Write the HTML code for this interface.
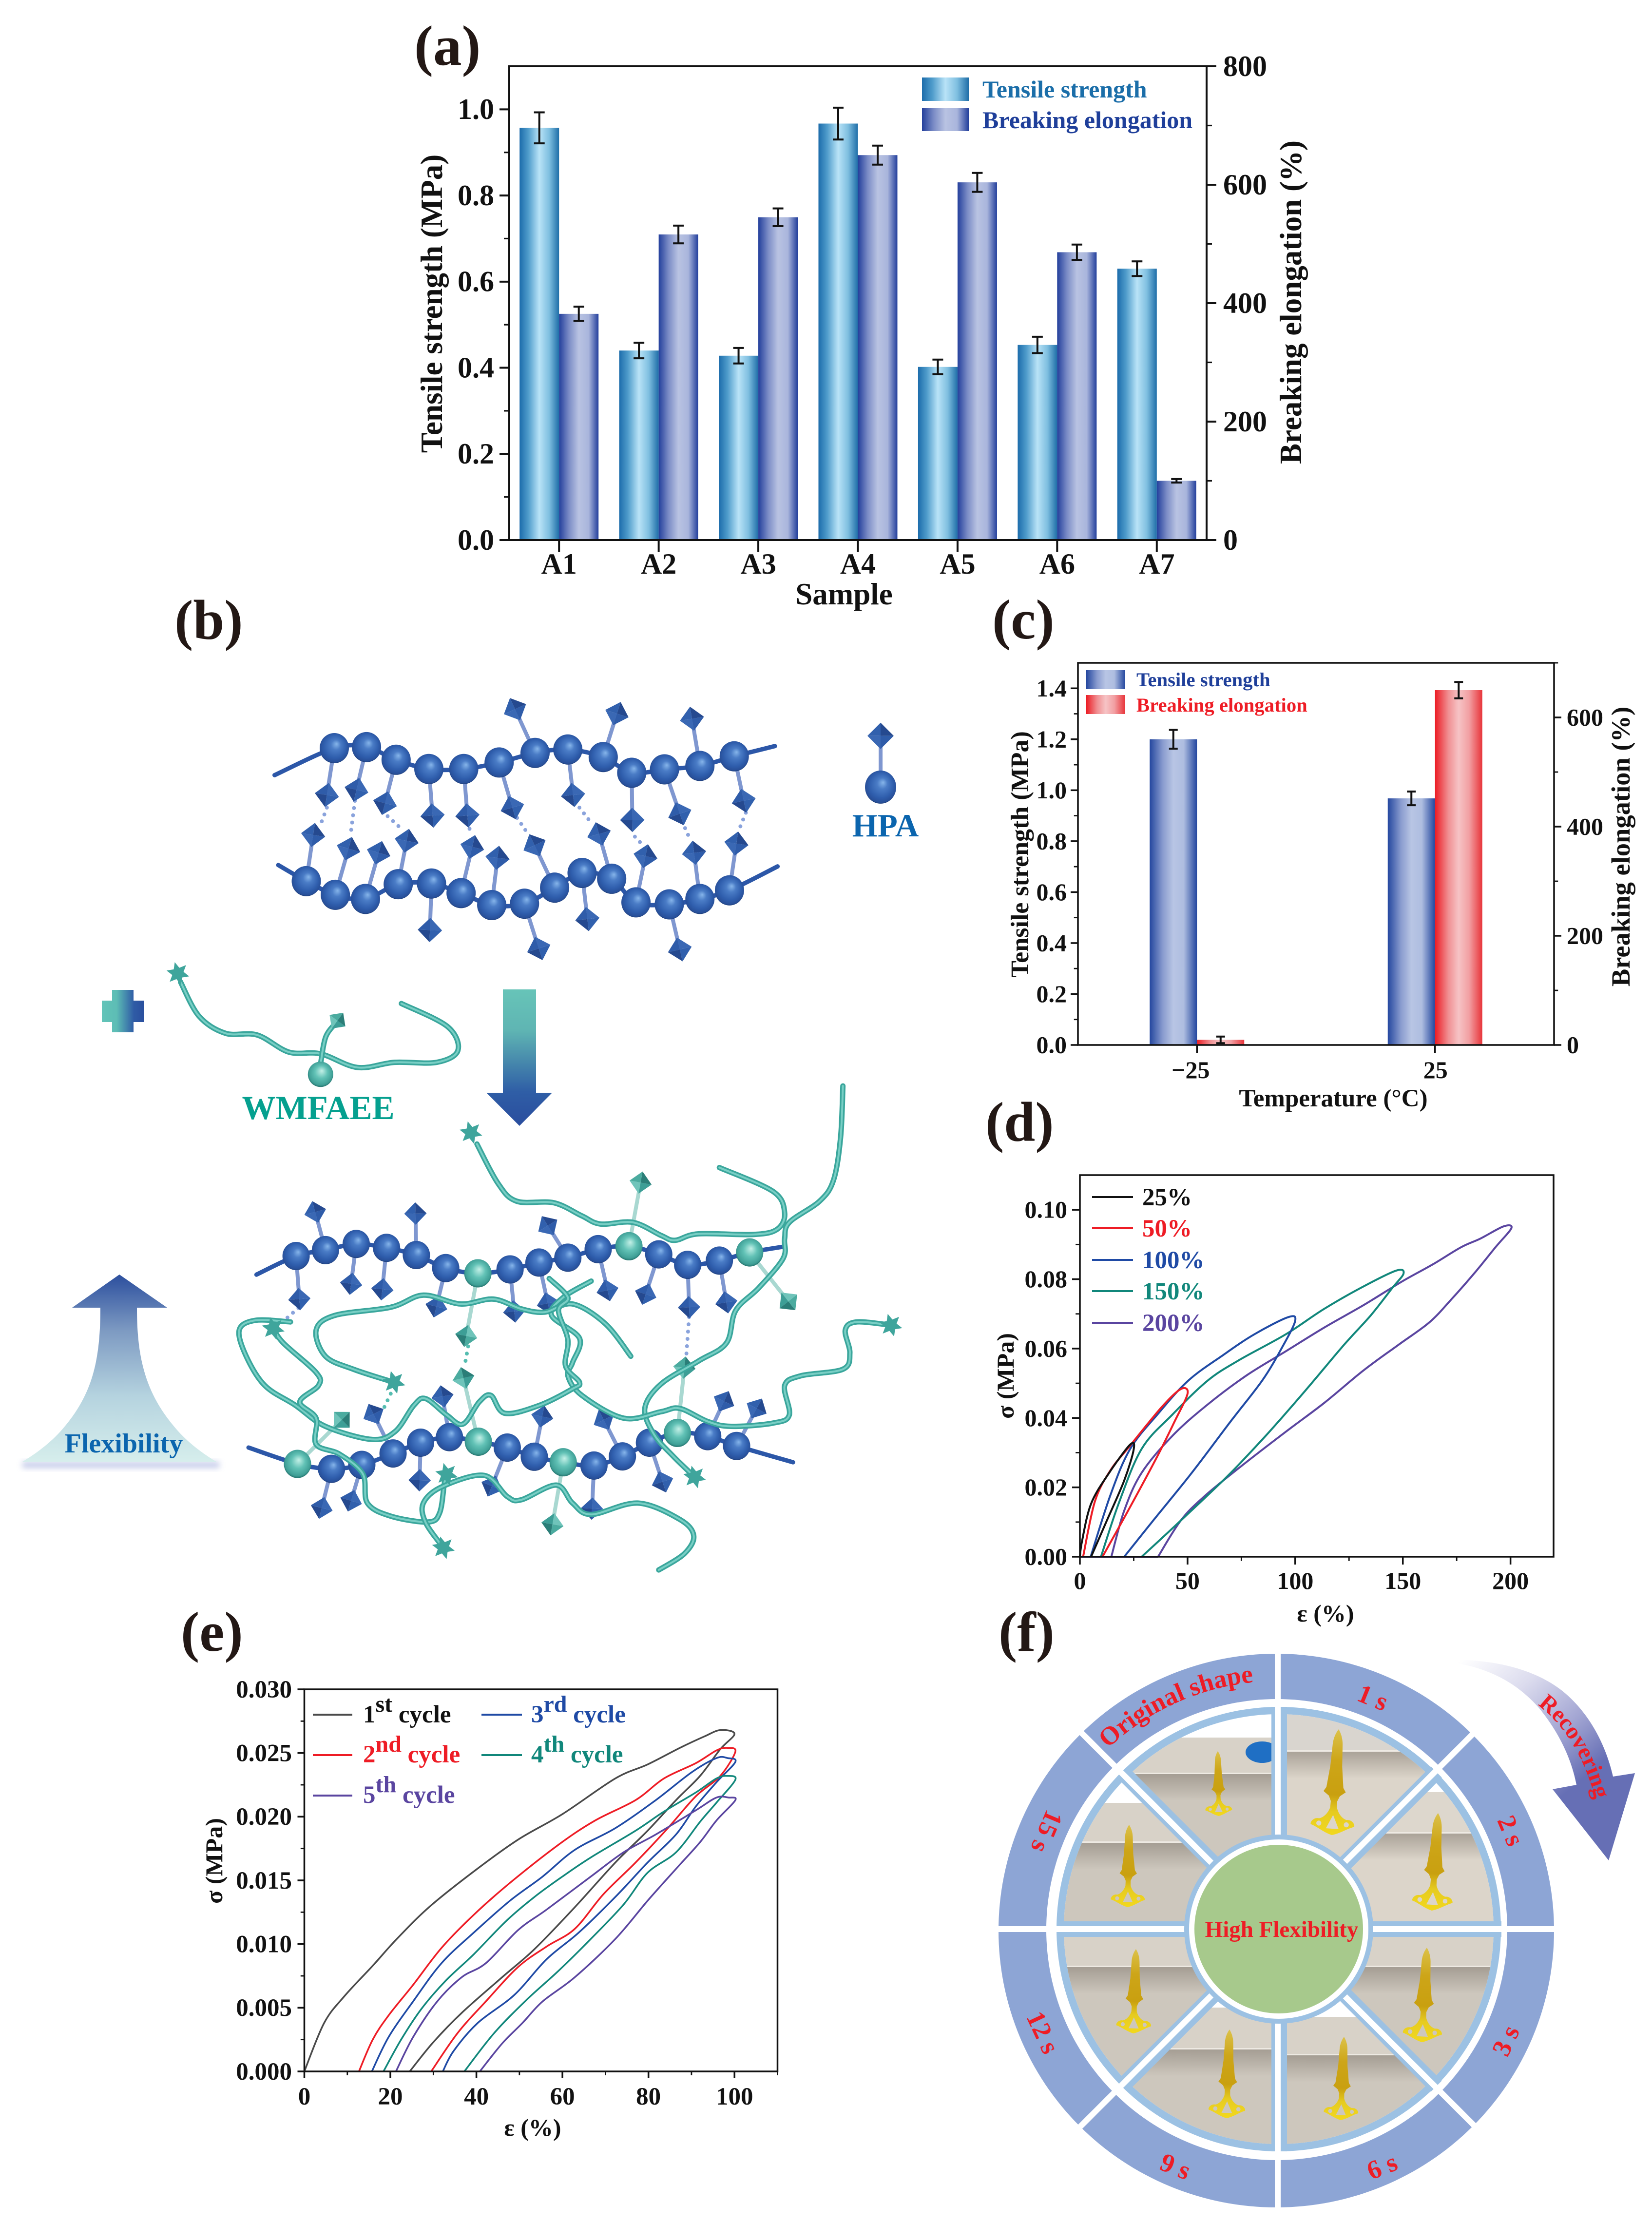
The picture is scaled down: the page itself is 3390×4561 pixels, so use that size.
<!DOCTYPE html>
<html lang="en">
<head>
<meta charset="utf-8">
<title>Tensile properties and flexibility figure</title>
<style>
html,body{margin:0;padding:0;background:#fff;}
svg{display:block;}
text{font-family:"Liberation Serif","Noto Serif CJK SC",serif;font-weight:bold;}
</style>
</head>
<body>
<svg id="fig" xmlns="http://www.w3.org/2000/svg" width="3390" height="4561" viewBox="0 0 3390 4561">
<defs>
<linearGradient id="gTsA" x1="0" x2="1" y1="0" y2="0"><stop offset="0" stop-color="#1c6cab"/><stop offset=".22" stop-color="#4f9ccb"/><stop offset=".5" stop-color="#b9e3f7"/><stop offset=".75" stop-color="#7fbfe0"/><stop offset="1" stop-color="#1f6ea8"/></linearGradient>
<linearGradient id="gBeA" x1="0" x2="1" y1="0" y2="0"><stop offset="0" stop-color="#233f9c"/><stop offset=".25" stop-color="#7b8cc6"/><stop offset=".5" stop-color="#b9c3e2"/><stop offset=".75" stop-color="#a9b5dc"/><stop offset="1" stop-color="#233f9c"/></linearGradient>
<linearGradient id="gRed" x1="0" x2="1" y1="0" y2="0"><stop offset="0" stop-color="#ec1c24"/><stop offset=".28" stop-color="#f08f92"/><stop offset=".5" stop-color="#f6c3c5"/><stop offset=".72" stop-color="#f2a0a3"/><stop offset="1" stop-color="#e8343a"/></linearGradient>
<linearGradient id="gBlueC" x1="0" x2="1" y1="0" y2="0"><stop offset="0" stop-color="#24479f"/><stop offset=".28" stop-color="#8a9ccf"/><stop offset=".5" stop-color="#b8c5e4"/><stop offset=".72" stop-color="#aebde0"/><stop offset="1" stop-color="#24479f"/></linearGradient>
<linearGradient id="gDown" x1="0" x2="0" y1="0" y2="1"><stop offset="0" stop-color="#67c4b8"/><stop offset=".3" stop-color="#5fb5b3"/><stop offset=".75" stop-color="#2f5ea6"/><stop offset="1" stop-color="#2a4d9e"/></linearGradient>
<linearGradient id="gFlex" x1="0" x2="0" y1="0" y2="1"><stop offset="0" stop-color="#2c4f9e"/><stop offset=".3" stop-color="#7d9ac2"/><stop offset=".65" stop-color="#b5d3df"/><stop offset="1" stop-color="#d6eeec"/></linearGradient>
<linearGradient id="gPlus" x1="0" x2="1" y1="0" y2="0"><stop offset="0" stop-color="#62c4b8"/><stop offset=".35" stop-color="#5dbdb5"/><stop offset=".75" stop-color="#2f5ca6"/><stop offset="1" stop-color="#2a4f9e"/></linearGradient>
<linearGradient id="gRecover" gradientUnits="userSpaceOnUse" x1="3010" y1="3395" x2="3235" y2="3660"><stop offset="0" stop-color="#ffffff"/><stop offset=".35" stop-color="#dcdcee"/><stop offset=".7" stop-color="#a3a6d3"/><stop offset="1" stop-color="#666fb5"/></linearGradient>
<radialGradient id="gBead" cx=".5" cy=".47" r=".55" fx=".58" fy=".36"><stop offset="0" stop-color="#86b5ea"/><stop offset=".3" stop-color="#4a7cc6"/><stop offset=".7" stop-color="#2f5ead"/><stop offset=".92" stop-color="#284f98"/><stop offset="1" stop-color="#16305f"/></radialGradient>
<radialGradient id="gBeadT" cx=".5" cy=".47" r=".55" fx=".55" fy=".36"><stop offset="0" stop-color="#c4f0e7"/><stop offset=".45" stop-color="#62c2b6"/><stop offset=".85" stop-color="#3f9f96"/><stop offset="1" stop-color="#1f6a65"/></radialGradient>
<linearGradient id="gBlade" x1="0" x2="0" y1="0" y2="1"><stop offset="0" stop-color="#dcc24a"/><stop offset=".3" stop-color="#cda518"/><stop offset=".62" stop-color="#c9a010"/><stop offset=".78" stop-color="#e6cb20"/><stop offset="1" stop-color="#f2d81e"/></linearGradient>
<linearGradient id="gFloor" x1="0" x2="0" y1="0" y2="1"><stop offset="0" stop-color="#8f877d" stop-opacity=".65"/><stop offset="1" stop-color="#8f877d" stop-opacity="0"/></linearGradient>
<filter id="blur8" x="-10%" y="-60%" width="120%" height="220%"><feGaussianBlur stdDeviation="6"/></filter>
</defs>
<rect x="0" y="0" width="3390" height="4561" fill="#ffffff"/>

<text x="850" y="133" font-size="117" fill="#231815">(a)</text>
<text x="358" y="1311" font-size="115" fill="#231815">(b)</text>
<text x="2036" y="1310" font-size="115" fill="#231815">(c)</text>
<text x="2022" y="2341" font-size="115" fill="#231815">(d)</text>
<text x="371" y="3387" font-size="115" fill="#231815">(e)</text>
<text x="2049" y="3387" font-size="115" fill="#231815">(f)</text>

<g id="chartA"></g>
<text transform="translate(907,623) rotate(-90)" text-anchor="middle" font-size="63" fill="#111">Tensile strength (MPa)</text>
<text transform="translate(2670,620) rotate(-90)" text-anchor="middle" font-size="63" fill="#111">Breaking elongation (%)</text>
<text x="1732" y="1240" text-anchor="middle" font-size="63" fill="#111">Sample</text>
<rect x="1892" y="159" width="96" height="48" fill="url(#gTsA)"/>
<rect x="1892" y="222" width="96" height="47" fill="url(#gBeA)"/>
<text x="2016" y="200" font-size="50" fill="#1b6ea9">Tensile strength</text>
<text x="2016" y="263" font-size="50" fill="#1f3f9a">Breaking elongation</text>

<g id="chartC"></g>
<text transform="translate(2110,1753) rotate(-90)" text-anchor="middle" font-size="52" fill="#111">Tensile strength (MPa)</text>
<text transform="translate(3344,1737) rotate(-90)" text-anchor="middle" font-size="54.5" fill="#111">Breaking elongation (%)</text>
<text x="2736" y="2270" text-anchor="middle" font-size="51" fill="#111">Temperature (°C)</text>
<rect x="2229" y="1375" width="80" height="39" fill="url(#gBlueC)"/>
<rect x="2229" y="1426" width="80" height="39" fill="url(#gRed)"/>
<text x="2332" y="1408" font-size="40.7" fill="#1f3f9a">Tensile strength</text>
<text x="2332" y="1460" font-size="40.7" fill="#ee1c25">Breaking elongation</text>

<g id="chartD"></g>
<text transform="translate(2080,2823) rotate(-90)" text-anchor="middle" font-size="50" fill="#111">σ (MPa)</text>
<text x="2720" y="3327" text-anchor="middle" font-size="50" fill="#111">ε (%)</text>
<g font-size="51">
<line x1="2241" x2="2325" y1="2456" y2="2456" stroke="#111" stroke-width="4"/>
<line x1="2241" x2="2325" y1="2520" y2="2520" stroke="#ee1c25" stroke-width="4"/>
<line x1="2241" x2="2325" y1="2585" y2="2585" stroke="#1f4aa5" stroke-width="4"/>
<line x1="2241" x2="2325" y1="2649" y2="2649" stroke="#11877b" stroke-width="4"/>
<line x1="2241" x2="2325" y1="2714" y2="2714" stroke="#5a45a0" stroke-width="4"/>
<text x="2344" y="2473" fill="#111">25%</text>
<text x="2344" y="2537" fill="#ee1c25">50%</text>
<text x="2344" y="2602" fill="#1f4aa5">100%</text>
<text x="2344" y="2666" fill="#11877b">150%</text>
<text x="2344" y="2731" fill="#5a45a0">200%</text>
</g>

<g id="chartE"></g>
<text transform="translate(456,3818) rotate(-90)" text-anchor="middle" font-size="50" fill="#111">σ (MPa)</text>
<text x="1093" y="4382" text-anchor="middle" font-size="50" fill="#111">ε (%)</text>
<g font-size="51">
<line x1="642" x2="723" y1="3518" y2="3518" stroke="#4a4a4a" stroke-width="4"/>
<line x1="642" x2="723" y1="3601" y2="3601" stroke="#ee1c25" stroke-width="4"/>
<line x1="642" x2="723" y1="3684" y2="3684" stroke="#5a45a0" stroke-width="4"/>
<line x1="988" x2="1071" y1="3518" y2="3518" stroke="#1f4aa5" stroke-width="4"/>
<line x1="988" x2="1071" y1="3601" y2="3601" stroke="#11877b" stroke-width="4"/>
<text x="745" y="3534" fill="#111">1<tspan dy="-22" font-size="48">st</tspan><tspan dy="22"> cycle</tspan></text>
<text x="745" y="3616" fill="#ee1c25">2<tspan dy="-22" font-size="48">nd</tspan><tspan dy="22"> cycle</tspan></text>
<text x="745" y="3699" fill="#5a45a0">5<tspan dy="-22" font-size="48">th</tspan><tspan dy="22"> cycle</tspan></text>
<text x="1090" y="3534" fill="#1f4aa5">3<tspan dy="-22" font-size="48">rd</tspan><tspan dy="22"> cycle</tspan></text>
<text x="1090" y="3616" fill="#11877b">4<tspan dy="-22" font-size="48">th</tspan><tspan dy="22"> cycle</tspan></text>
</g>

<g id="illustration"></g>
<text x="1817" y="1716" text-anchor="middle" font-size="67" fill="#0b65ae">HPA</text>
<text x="653" y="2296" text-anchor="middle" font-size="69" fill="#05a08f">WMFAEE</text>
<path d="M209 2053H230V2031H274V2053H296V2097H274V2118H230V2097H209Z" fill="url(#gPlus)"/>
<path d="M1032 2030H1100V2242H1133L1066 2310L998 2242H1032Z" fill="url(#gDown)"/>
<path d="M46 2999H450V3012H46Z" fill="#aeb7e2" opacity=".7" filter="url(#blur8)"/>
<path d="M245 2615L343 2683H281C281 2790 300 2860 360 2930C385 2960 420 2985 444 2999H46C70 2985 105 2960 130 2930C190 2860 206 2790 206 2683H148Z" fill="url(#gFlex)"/>
<text x="254" y="2980" text-anchor="middle" font-size="56" fill="#0b65ae">Flexibility</text>

<g id="wheel"></g>
<path id="recoverArrow" d="M2973 3405C3070 3405 3150 3425 3207 3470C3262 3515 3295 3580 3310 3645L3355 3638L3301 3817L3186 3671L3235 3662C3225 3610 3200 3555 3157 3503C3110 3450 3050 3420 2973 3410Z" fill="url(#gRecover)"/>
<path id="recoverPath" d="M3155 3498Q3242 3563 3276 3700" fill="none"/>
<text font-size="48" fill="#ee1c25"><textPath href="#recoverPath" startOffset="0">Recovering</textPath></text>
<path id="origPath" d="M2261 3600A508 508 0 0 1 2590 3450" fill="none"/>
<text font-size="53" fill="#ee1c25" text-anchor="middle"><textPath href="#origPath" startOffset="50%">Original shape</textPath></text>
<text transform="translate(2817,3483) rotate(22)" text-anchor="middle" dy=".33em" font-size="54" fill="#ee1c25">1 s</text>
<text transform="translate(3100,3756) rotate(67)" text-anchor="middle" dy=".33em" font-size="54" fill="#ee1c25">2 s</text>
<text transform="translate(3090,4187) rotate(-65)" text-anchor="middle" dy=".33em" font-size="54" fill="#ee1c25">3 s</text>
<text transform="translate(2836,4445) rotate(-22)" text-anchor="middle" dy=".33em" font-size="54" fill="#ee1c25">6 s</text>
<text transform="translate(2412,4445) rotate(22)" text-anchor="middle" dy=".33em" font-size="54" fill="#ee1c25">9 s</text>
<text transform="translate(2140,4170) rotate(65)" text-anchor="middle" dy=".33em" font-size="54" fill="#ee1c25">12 s</text>
<text transform="translate(2148,3758) rotate(113)" text-anchor="middle" dy=".33em" font-size="54" fill="#ee1c25">15 s</text>
<text x="2630" y="3974" text-anchor="middle" font-size="47" fill="#ee1c25">High Flexibility</text>
</svg>

<script>
/* ---------- chart data: panel (a) ---------- */
const sampleCategories = ['A1','A2','A3','A4','A5','A6','A7'];
const aTensile = [0.957,0.44,0.428,0.967,0.402,0.453,0.63];
const aTensileErr = [0.036,0.018,0.018,0.037,0.017,0.019,0.017];
const aElongation = [382,516,545,650,604,486,100];
const aElongationErr = [12,15,15,16,16,13,3];
const aLeftTicks = ['0.0','0.2','0.4','0.6','0.8','1.0'];
const aLeftMinor = [0.1,0.3,0.5,0.7,0.9];
const aRightTicks = ['0','200','400','600','800'];
const aRightMinor = [100,300,500,700];

/* ---------- chart data: panel (c) ---------- */
const tempCategories = ['\u221225','25'];
const cTensile = [1.2,0.968];
const cTensileErr = [0.037,0.027];
const cElongation = [9.4,650];
const cElongationErr = [6,15];
const cLeftTicks = ['0.0','0.2','0.4','0.6','0.8','1.0','1.2','1.4'];
const cLeftMinor = [0.1,0.3,0.5,0.7,0.9,1.1,1.3];
const cRightTicks = ['0','200','400','600'];
const cRightMinor = [100,300,500,700];

/* ---------- chart data: panel (d) ---------- */
const dXTicks = ['0','50','100','150','200'];
const dXMinor = [25,75,125,175];
const dYTicks = ['0.00','0.02','0.04','0.06','0.08','0.10'];
const dYMinor = [0.01,0.03,0.05,0.07,0.09];
const d25Strain = [0,1,5.2,13.4,23.3,25,20.6,12.5,5.2];
const d25Stress = [0,0.0045,0.0153,0.024,0.0323,0.031,0.022,0.0104,0];
const d50Strain = [1.5,7,14.3,23.3,37.8,46.8,50,44,36,23.3,10.5];
const d50Stress = [0,0.016,0.025,0.032,0.043,0.0483,0.047,0.039,0.029,0.0143,0];
const d100Strain = [5,14.3,23.3,36,50.4,66.7,81,96.5,100,93.8,84.7,70,52,34,20.6];
const d100Stress = [0,0.018,0.031,0.041,0.0508,0.0582,0.0641,0.069,0.068,0.0602,0.0508,0.039,0.0242,0.0104,0];
const d150Strain = [9.8,18,28.7,43,59.4,74,95.6,113.6,131.7,147,150.3,145,135,122.7,104.6,86.5,68.5,46.8,28.7];
const d150Stress = [0,0.0153,0.0311,0.041,0.0508,0.0567,0.0641,0.0715,0.0779,0.0825,0.0816,0.0774,0.0695,0.0611,0.0478,0.035,0.0232,0.0104,0];
const d200Strain = [14.6,20.6,28.7,43.2,59.4,77.5,95.6,113.6,131.7,149.8,164,177,186,196.7,200.4,193,184,173,162.4,148,131.7,113.6,95.6,73.9,57.6,46.8,36.3];
const d200Stress = [0,0.0133,0.0242,0.035,0.0439,0.0523,0.0592,0.0661,0.0725,0.0794,0.0843,0.0892,0.0917,0.0952,0.0947,0.0892,0.0823,0.0745,0.0676,0.0611,0.0537,0.0444,0.036,0.0256,0.0173,0.0104,0];
const dZeroLineEnd = [0,36.3];

/* ---------- chart data: panel (e) ---------- */
const eXTicks = ['0','20','40','60','80','100'];
const eXMinor = [10,30,50,70,90,110];
const eYTicks = ['0.000','0.005','0.010','0.015','0.020','0.025','0.030'];
const eYMinor = [0.0025,0.0075,0.0125,0.0175,0.0225,0.0275];
const e1Strain = [0,4.6,9.3,15.9,21.5,29,39.4,49.7,60,72.3,79.8,87.3,93,96.7,100,96.7,92,86.4,79.8,72.3,62.9,53.5,46,36.6,30,24.5];
const e1Stress = [0,0.0038,0.0059,0.0083,0.0104,0.0129,0.0157,0.0182,0.0202,0.023,0.0241,0.0254,0.0263,0.0268,0.0265,0.0253,0.0232,0.0213,0.0189,0.0164,0.0129,0.0096,0.0074,0.0046,0.0023,0];
const e2Strain = [12.7,15.9,19.6,25.3,31.9,39.4,47.8,59.1,67.6,77,83.6,91,95.8,98.4,100.2,96.7,91,84.5,77,69.5,62.9,56.3,49.7,42.2,35.6,29.5];
const e2Stress = [0,0.0025,0.0044,0.0068,0.0097,0.0123,0.0148,0.0178,0.0197,0.0213,0.023,0.0242,0.0252,0.0254,0.0251,0.0232,0.0216,0.0191,0.0164,0.0139,0.0112,0.0098,0.0082,0.0055,0.003,0];
const e3Strain = [15.7,19.6,25.3,31.9,39.4,47.8,55.4,62.9,72.3,81.7,90.1,95.8,98.4,100.2,95.8,91,86.4,79.8,72.3,63.8,56.3,48.8,40.3,34.7,32.2];
const e3Stress = [0,0.0027,0.0055,0.0085,0.0109,0.0134,0.0153,0.0174,0.0191,0.0213,0.0235,0.0246,0.0246,0.0243,0.0227,0.0208,0.0186,0.0164,0.0137,0.0109,0.0088,0.006,0.0038,0.0016,0];
const e4Strain = [18.4,22.5,27.2,32.8,39.4,46.9,53.5,60,66.6,77,83.6,91,95.8,98.4,100.2,95.8,92,86.4,79.8,74.2,66.6,59.1,51.6,44.1,37.2];
const e4Stress = [0,0.0025,0.0049,0.0071,0.0092,0.0118,0.0137,0.0153,0.0168,0.0189,0.0204,0.0219,0.023,0.0232,0.0229,0.0211,0.0196,0.0172,0.0156,0.0131,0.0104,0.0079,0.0056,0.003,0];
const e5Strain = [21.3,25.3,30.9,36.6,42.2,49.7,56.3,66.6,74.2,81.7,91,95.8,98.6,100.2,95.8,92,86.4,79.8,72.3,62.9,55.4,50.7,46,40.8];
const e5Stress = [0,0.0027,0.0055,0.0074,0.0085,0.0111,0.0127,0.0153,0.0172,0.0186,0.0205,0.0215,0.0215,0.0213,0.0197,0.018,0.0159,0.0134,0.0104,0.0074,0.0055,0.0038,0.0022,0];

/* ---------- helpers ---------- */
const NS = 'http://www.w3.org/2000/svg';
function add(parent, tag, attrs, text) {
  const el = document.createElementNS(NS, tag);
  for (const k in attrs) el.setAttribute(k, attrs[k]);
  if (text !== undefined) el.textContent = text;
  parent.appendChild(el);
  return el;
}
function linear(d0, d1, r0, r1) {
  return function (v) { return r0 + (v - d0) / (d1 - d0) * (r1 - r0); };
}
function pts(p) { return p.map(function (q) { return q[0].toFixed(1) + ',' + q[1].toFixed(1); }).join(' '); }
function smooth(p) {
  let d = 'M' + p[0][0].toFixed(1) + ' ' + p[0][1].toFixed(1);
  for (let i = 0; i < p.length - 1; i++) {
    const a = p[Math.max(0, i - 1)], b = p[i], c = p[i + 1], e = p[Math.min(p.length - 1, i + 2)];
    d += 'C' + (b[0] + (c[0] - a[0]) / 6).toFixed(1) + ' ' + (b[1] + (c[1] - a[1]) / 6).toFixed(1) + ' ' +
      (c[0] - (e[0] - b[0]) / 6).toFixed(1) + ' ' + (c[1] - (e[1] - b[1]) / 6).toFixed(1) + ' ' +
      c[0].toFixed(1) + ' ' + c[1].toFixed(1);
  }
  return d;
}
function frame(g, box, sw, prefix) {
  const r = add(g, 'rect', { x: box.l, y: box.t, width: box.r - box.l, height: box.b - box.t, fill: 'none', stroke: '#111', 'stroke-width': sw });
  
  
}
function yTicks(g, labels, minor, scale, x, dir, len, sw, fs, labelX, anchor, prefix) {
  labels.forEach(function (lab) {
    const y = scale(Number(lab));
    const t = add(g, 'line', { x1: x, x2: x + dir * len, y1: y, y2: y, stroke: '#111', 'stroke-width': sw });
    
    
    const l = add(g, 'text', { x: labelX, y: y + fs * 0.33, 'text-anchor': anchor, 'font-size': fs, fill: '#111' }, lab);
    
    
  });
  minor.forEach(function (v) {
    const y = scale(v);
    const t = add(g, 'line', { x1: x, x2: x + dir * len * 0.55, y1: y, y2: y, stroke: '#111', 'stroke-width': sw * 0.8 });
    
    
  });
}
function xTicks(g, labels, minor, scale, y, len, sw, fs, baseline, prefix) {
  labels.forEach(function (lab) {
    const x = scale(Number(lab));
    const t = add(g, 'line', { x1: x, x2: x, y1: y, y2: y + len, stroke: '#111', 'stroke-width': sw });
    
    
    const l = add(g, 'text', { x: x, y: baseline, 'text-anchor': 'middle', 'font-size': fs, fill: '#111' }, lab);
    
    
  });
  minor.forEach(function (v) {
    const x = scale(v);
    const t = add(g, 'line', { x1: x, x2: x, y1: y, y2: y + len * 0.55, stroke: '#111', 'stroke-width': sw * 0.8 });
    
    
  });
}
function errorBar(g, x, yTop, yBot, cap, sw, name) {
  const e = add(g, 'path', { d: 'M' + (x - cap) + ' ' + yTop + 'H' + (x + cap) + 'M' + x + ' ' + yTop + 'V' + yBot + 'M' + (x - cap) + ' ' + yBot + 'H' + (x + cap), fill: 'none', stroke: '#111', 'stroke-width': sw });
  
  
}

/* ---------- panel (a) ---------- */
(function () {
  const g = document.getElementById('chartA');
  const box = { l: 1045, r: 2476, t: 136, b: 1108 };
  const x = linear(0.5, 7.5, box.l, box.r);
  const yL = linear(0, 1.1, box.b, box.t);
  const yR = linear(0, 800, box.b, box.t);
  const w = 81;
  sampleCategories.forEach(function (cat, i) {
    const cx = x(i + 1);
    const b1 = add(g, 'rect', { x: cx - w, y: yL(aTensile[i]), width: w, height: box.b - yL(aTensile[i]), fill: 'url(#gTsA)' });
    
    
    const b2 = add(g, 'rect', { x: cx, y: yR(aElongation[i]), width: w, height: box.b - yR(aElongation[i]), fill: 'url(#gBeA)' });
    
    
    errorBar(g, cx - w / 2, yL(aTensile[i] + aTensileErr[i]), yL(aTensile[i] - aTensileErr[i]), 11, 4, 'error-tensile-' + cat);
    errorBar(g, cx + w / 2, yR(aElongation[i] + aElongationErr[i]), yR(aElongation[i] - aElongationErr[i]), 11, 4, 'error-elongation-' + cat);
    const t = add(g, 'line', { x1: cx, x2: cx, y1: box.b, y2: box.b + 24, stroke: '#111', 'stroke-width': 4 });
    
    
    const l = add(g, 'text', { x: cx, y: 1177, 'text-anchor': 'middle', 'font-size': 60, fill: '#111' }, cat);
    
    
  });
  frame(g, box, 4, 'a');
  yTicks(g, aLeftTicks, aLeftMinor, yL, box.l, -1, 20, 4, 60, 1014, 'end', 'a-left');
  yTicks(g, aRightTicks, aRightMinor, yR, box.r, 1, 20, 4, 60, 2510, 'start', 'a-right');
})();

/* ---------- panel (c) ---------- */
(function () {
  const g = document.getElementById('chartC');
  const box = { l: 2212, r: 3189, t: 1360, b: 2144 };
  const x = linear(0.5, 2.5, box.l, box.r);
  const yL = linear(0, 1.5, box.b, box.t);
  const yR = linear(0, 700, box.b, box.t);
  const w = 97;
  tempCategories.forEach(function (cat, i) {
    const cx = x(i + 1);
    const b1 = add(g, 'rect', { x: cx - w, y: yL(cTensile[i]), width: w, height: box.b - yL(cTensile[i]), fill: 'url(#gBlueC)' });
    
    
    const b2 = add(g, 'rect', { x: cx, y: yR(cElongation[i]), width: w, height: box.b - yR(cElongation[i]), fill: 'url(#gRed)' });
    
    
    errorBar(g, cx - w / 2, yL(cTensile[i] + cTensileErr[i]), yL(cTensile[i] - cTensileErr[i]), 9, 4, 'error-tensile-' + cat);
    errorBar(g, cx + w / 2, yR(cElongation[i] + cElongationErr[i]), yR(cElongation[i] - cElongationErr[i]), 9, 4, 'error-elongation-' + cat);
    const t = add(g, 'line', { x1: cx, x2: cx, y1: box.b, y2: box.b + 17, stroke: '#111', 'stroke-width': 3.5 });
    
    
    const l = add(g, 'text', { x: cx - (i === 0 ? 13 : -1), y: 2212, 'text-anchor': 'middle', 'font-size': 50, fill: '#111' }, cat);
    
    
  });
  frame(g, box, 3.5, 'c');
  yTicks(g, cLeftTicks, cLeftMinor, yL, box.l, -1, 15, 3.5, 50, 2189, 'end', 'c-left');
  yTicks(g, cRightTicks, cRightMinor, yR, box.r, 1, 15, 3.5, 50, 3215, 'start', 'c-right');
})();

/* ---------- panel (d) ---------- */
(function () {
  const g = document.getElementById('chartD');
  const box = { l: 2216, r: 3188, t: 2411, b: 3194 };
  const x = linear(0, 220, box.l, box.r);
  const y = linear(0, 0.11, box.b, box.t);
  const zero = add(g, 'line', { x1: x(dZeroLineEnd[0]), x2: x(dZeroLineEnd[1]), y1: y(0), y2: y(0), stroke: '#5a45a0', 'stroke-width': 4 });
  
  
  const curves = [[d200Strain, d200Stress, '#5a45a0', 'curve-200'], [d150Strain, d150Stress, '#11877b', 'curve-150'], [d100Strain, d100Stress, '#1f4aa5', 'curve-100'], [d50Strain, d50Stress, '#ee1c25', 'curve-50'], [d25Strain, d25Stress, '#111111', 'curve-25']];
  curves.forEach(function (c) {
    const p = c[0].map(function (v, i) { return [x(v), y(c[1][i])]; });
    const l = add(g, 'path', { d: smooth(p), fill: 'none', stroke: c[2], 'stroke-width': 4, 'stroke-linejoin': 'round' });
    
    
  });
  frame(g, box, 3.5, 'd');
  yTicks(g, dYTicks, dYMinor, y, box.l, -1, 16, 3.5, 50, 2190, 'end', 'd-y');
  xTicks(g, dXTicks, dXMinor, x, box.b, 16, 3.5, 50, 3260, 'd-x');
})();

/* ---------- panel (e) ---------- */
(function () {
  const g = document.getElementById('chartE');
  const box = { l: 624.5, r: 1595.5, t: 3466, b: 4250 };
  const x = linear(0, 110, box.l, box.r);
  const y = linear(0, 0.03, box.b, box.t);
  const curves = [[e1Strain, e1Stress, '#4a4a4a', 'curve-cycle-1'], [e2Strain, e2Stress, '#ee1c25', 'curve-cycle-2'], [e3Strain, e3Stress, '#1f4aa5', 'curve-cycle-3'], [e4Strain, e4Stress, '#11877b', 'curve-cycle-4'], [e5Strain, e5Stress, '#5a45a0', 'curve-cycle-5']];
  curves.forEach(function (c) {
    const p = c[0].map(function (v, i) { return [x(v), y(c[1][i])]; });
    const l = add(g, 'path', { d: smooth(p), fill: 'none', stroke: c[2], 'stroke-width': 3.5, 'stroke-linejoin': 'round' });
    
    
  });
  frame(g, box, 3.5, 'e');
  yTicks(g, eYTicks, eYMinor, y, box.l, -1, 14, 3.5, 51, 599, 'end', 'e-y');
  xTicks(g, eXTicks, eXMinor, x, box.b, 14, 3.5, 51, 4318, 'e-x');
})();

/* ---------- panel (b) schematic ---------- */
(function () {
  const g = document.getElementById('illustration');
  const BLUE = ['#2f5ca9', '#3a68b4', '#25498f', '#3160ad'];
  const TEAL = ['#3d9e96', '#6fc4ba', '#2b7e78', '#4bab9f'];
  const z2 = function (p) { return [300 + p[0] * 1.0842, 1180 + p[1] * 0.7015]; };
  const z8 = function (p) { return [400 + p[0] * 0.9566, 2200 + p[1] * 0.6696]; };

  function backbone(points) {
    const b = add(g, 'path', { d: smooth(points), fill: 'none', stroke: '#2c57a8', 'stroke-width': 9, 'stroke-linecap': 'round' });
    
    
  }
  function bead(p, rx, ry, teal) {
    const b = add(g, 'ellipse', { cx: p[0], cy: p[1], rx: rx, ry: ry, fill: teal ? 'url(#gBeadT)' : 'url(#gBead)' });
    
    
  }
  function diamond(c, from, size, colors, name) {
    const ang = Math.atan2(c[1] - from[1], c[0] - from[0]) * 180 / Math.PI - 90;
    const d = add(g, 'g', { transform: 'translate(' + c[0].toFixed(1) + ',' + c[1].toFixed(1) + ') rotate(' + ang.toFixed(1) + ')' });
    
    
    const s = size;
    add(d, 'polygon', { points: '0,' + (-s) + ' ' + (-s) + ',0 0,0', fill: colors[0] });
    add(d, 'polygon', { points: '0,' + (-s) + ' ' + s + ',0 0,0', fill: colors[1] });
    add(d, 'polygon', { points: '0,' + s + ' ' + (-s) + ',0 0,0', fill: colors[2] });
    add(d, 'polygon', { points: '0,' + s + ' ' + s + ',0 0,0', fill: colors[3] });
  }
  function stem(a, b, color, name) {
    const s = add(g, 'line', { x1: a[0], y1: a[1], x2: b[0], y2: b[1], stroke: color, 'stroke-width': 8 });
    
    
  }
  function dots(a, b, color) {
    const s = add(g, 'line', { x1: a[0], y1: a[1], x2: b[0], y2: b[1], stroke: color, 'stroke-width': 8, 'stroke-dasharray': '0 15', 'stroke-linecap': 'round' });
    
    
  }
  function star(c, r) {
    const p = [];
    for (let i = 0; i < 12; i++) {
      const a = i * Math.PI / 6 + 0.25, q = i % 2 ? r * 0.5 : r;
      p.push([c[0] + Math.cos(a) * q, c[1] + Math.sin(a) * q]);
    }
    const s = add(g, 'polygon', { points: pts(p), fill: '#3fa59c' });
    
    
  }
  function strand(points) {
    const d = smooth(points);
    const o = add(g, 'path', { d: d, fill: 'none', stroke: '#3aa69c', 'stroke-width': 11, 'stroke-linecap': 'round' });
    
    
    const i = add(g, 'path', { d: d, fill: 'none', stroke: '#79cfc5', 'stroke-width': 4, 'stroke-linecap': 'round' });
    
    
  }
  function chain(beads, diamonds, conv, ends, rx, ry, ds) {
    const line = [conv(ends[0])].concat(beads.map(function (b) { return conv(b); })).concat([conv(ends[1])]);
    backbone(line);
    diamonds.forEach(function (d) {
      const b = conv(beads[d[0]]), c = conv([d[1], d[2]]), teal = beads[d[0]][2] === 1;
      stem(b, c, teal ? '#a9d8d1' : '#7f97d0', teal ? 'teal-side-chain' : 'blue-side-chain');
    });
    diamonds.forEach(function (d) {
      const b = conv(beads[d[0]]), c = conv([d[1], d[2]]), teal = beads[d[0]][2] === 1;
      diamond(c, b, ds, teal ? TEAL : BLUE, teal ? 'teal-end-group' : 'blue-end-group');
    });
    beads.forEach(function (b) { bead(conv(b), rx, ry, b[2] === 1); });
  }

  /* upper HPA network */
  const topBeads = [[356,506],[417,503],[473,540],[535,567],[601,567],[668,548],[736,520],[798,510],[865,532],[919,578],[981,568],[1048,558],[1113,530]];
  const topDiamonds = [[6,698,392],[8,891,405],[11,1033,420],[0,342,643],[1,398,628],[2,452,667],[3,542,703],[4,608,703],[5,693,680],[7,808,643],[9,920,716],[10,1010,698],[12,1131,660]];
  const botBeads = [[303,895],[358,935],[415,947],[477,904],[540,902],[596,930],[654,965],[716,961],[773,914],[825,871],[881,888],[927,957],[990,963],[1048,947],[1104,922]];
  const botDiamonds = [[0,316,760],[1,383,800],[2,440,812],[3,493,777],[5,617,795],[6,665,827],[8,735,790],[10,857,757],[11,945,822],[13,1037,812],[14,1117,785],[4,537,1038],[7,743,1092],[9,835,1006],[12,1010,1095]];
  [[342,680,330,730],[395,660,388,745],[457,705,485,745],[612,742,616,760],[702,710,725,762],[820,680,845,730],[925,765,940,790],[1020,740,1030,775],[1135,695,1122,745]].forEach(function (q) {
    dots(z2([q[0], q[1]]), z2([q[2], q[3]]), '#8aa3dc');
  });
  chain(topBeads, topDiamonds, z2, [[243,585],[1190,500]], 30, 31, 25);
  chain(botBeads, botDiamonds, z2, [[250,848],[1195,852]], 30, 31, 25);

  /* HPA monomer icon */
  stem(z2([1390, 620]), z2([1390, 470]), '#7f97d0', 'hpa-monomer-stem');
  diamond(z2([1390, 470]), z2([1390, 620]), 27, BLUE, 'hpa-monomer-end-group');
  bead(z2([1390, 620]), 32, 34, false);

  /* WMFAEE monomer icon */
  strand([[65,1190],[100,1290],[150,1340],[210,1345],[270,1395],[330,1400],[400,1440],[470,1425],[550,1425],[590,1390],[570,1320],[483,1253]].map(z2));
  strand([[330,1430],[340,1350],[362,1305]].map(z2));
  star(z2([60, 1165]), 24);
  diamond(z2([362, 1303]), z2([340, 1350]), 20, TEAL, 'wmfaee-monomer-end-group');
  bead(z2([330, 1460]), 26, 26, true);

  /* composite network */
  const cTop = [[217,563],[280,545],[346,526],[411,538],[475,560],[538,600],[607,616,1],[676,604],[738,583],[800,568],[865,542],[931,533,1],[995,558],[1057,590],[1125,577],[1190,552,1]];
  const cTopD = [[0,224,695],[1,258,428],[2,335,648],[3,402,665],[4,473,433],[5,518,718],[7,685,733],[8,757,708],[9,757,470],[10,885,668],[12,967,680],[13,1060,720],[14,1140,705],[6,582,808],[11,956,338],[15,1273,702]];
  const cBot = [[220,1200,1],[293,1215],[358,1203],[425,1168],[484,1135],[546,1118],[608,1132,1],[670,1150],[728,1178],[790,1195,1],[856,1205],[917,1177],[975,1135],[1035,1105,1],[1100,1115],[1162,1145]];
  const cBotD = [[3,383,1047],[4,482,1250],[5,531,993],[6,576,937],[7,637,1268],[8,745,1055],[9,767,1385],[10,852,1337],[11,877,1065],[12,1003,1255],[13,1050,905],[14,1135,1008],[15,1205,1030],[1,272,1335],[2,335,1313],[0,315,1065]];
  dots(z8([222,722]), z8([192,760]), '#8aa3dc');
  dots(z8([586,840]), z8([578,905]), '#55bdb0');
  dots(z8([1060,750]), z8([1054,870]), '#8aa3dc');
  dots(z8([420,985]), z8([405,1030]), '#55bdb0');
  chain(cTop, cTopD, z8, [[132,620],[1260,535]], 28, 29, 23);
  chain(cBot, cBotD, z8, [[115,1150],[1283,1195]], 28, 29, 23);

  const strands = [
    [[605,220],[650,340],[690,395],[770,400],[830,440],[870,465],[940,460],[1000,500],[1030,515],[1080,495],[1200,497],[1250,480],[1265,430],[1240,365],[1125,292]],
    [[1390,42],[1385,200],[1370,330],[1340,395],[1275,460],[1265,510],[1262,570],[1210,660],[1160,730],[1140,830],[1080,885],[1000,955],[965,1030],[985,1110],[1025,1175],[1072,1240]],
    [[850,640],[790,690],[765,745],[825,815],[810,890],[800,930],[830,990],[920,1060],[1000,1040],[1040,1030],[1100,1070],[1150,1085],[1240,1075],[1275,1050],[1265,960],[1300,930],[1390,910],[1405,860],[1395,790],[1420,765],[1493,775]],
    [[935,870],[880,770],[810,710],[750,735],[700,725],[640,695],[570,710],[490,683],[420,720],[300,745],[260,790],[280,870],[340,910],[427,950]],
    [[760,632],[800,690],[780,730],[800,820],[795,900],[825,950],[810,970],[740,1020],[665,1045],[635,990],[610,1010],[575,1078],[540,1050],[495,1000],[470,1020],[430,1100],[380,1125],[280,1085],[215,1020],[150,960],[110,870],[95,790],[130,760],[205,765]],
    [[168,785],[190,830],[260,920],[265,960],[225,1010],[260,1060],[260,1140],[310,1170],[360,1230],[370,1320],[420,1360],[500,1378],[525,1350],[535,1260],[540,1232]],
    [[533,1457],[495,1380],[490,1320],[530,1270],[620,1235],[670,1300],[700,1310],[775,1265],[810,1320],[850,1355],[950,1320],[1040,1370],[1070,1420],[1050,1475],[995,1525]]
  ];
  strands.forEach(function (s) { strand(s.map(z8)); });
  [[592,185],[168,785],[427,950],[1072,1240],[540,1232],[533,1457],[1493,775]].forEach(function (c) { star(z8(c), 24); });
})();

/* ---------- panel (f) wheel ---------- */
(function () {
  const g = document.getElementById('wheel');
  const cx = 2624, cy = 3958;
  const defs = document.querySelector('defs');
  const c1 = add(g, 'ellipse', { cx: 2619, cy: 3961, rx: 570, ry: 568, fill: '#8da5d5' });
  
  
  const c2 = add(g, 'circle', { cx: 2620, cy: 3959, r: 473, fill: '#ffffff' });
  
  
  const c3 = add(g, 'circle', { cx: cx, cy: cy, r: 456, fill: '#9cc1e3' });
  
  

  /* whiteTop, edgeY, sector index (0 = top-right going clockwise), dagger tip x,y, base x,y, name, band colour, floor colour */
  const photos = [
    [3500, 3594, 0, 2747, 3548, 2733, 3765, 'photo-1s', '#d9d5cf', '#dcd5ca'],
    [3677, 3762, 1, 2951, 3720, 2938, 3920, 'photo-2s', '#ddd7cd', '#dcd5ca'],
    [3900, 4036, 2, 2928, 3996, 2918, 4190, 'photo-3s', '#d8d2c8', '#cdc7bd'],
    [4138, 4217, 3, 2758, 4179, 2751, 4350, 'photo-6s', '#d8d2c8', '#cdc7bd'],
    [4119, 4205, 4, 2523, 4164, 2517, 4346, 'photo-9s', '#d8d2c8', '#cdc7bd'],
    [3900, 4036, 5, 2331, 3999, 2326, 4172, 'photo-12s', '#d8d2c8', '#cdc7bd'],
    [3699, 3781, 6, 2317, 3744, 2314, 3913, 'photo-15s', '#d8d2c8', '#cdc7bd'],
    [3565, 3640, 7, 2499, 3593, 2501, 3726, 'photo-original', '#d8d2c8', '#cdc7bd']
  ];
  photos.forEach(function (ph, i) {
    const a0 = ph[2] * Math.PI / 4 - Math.PI / 2, a1 = a0 + Math.PI / 4, R = 441;
    const d = 'M' + cx + ' ' + cy + 'L' + (cx + R * Math.cos(a0)).toFixed(1) + ' ' + (cy + R * Math.sin(a0)).toFixed(1) +
      'A' + R + ' ' + R + ' 0 0 1 ' + (cx + R * Math.cos(a1)).toFixed(1) + ' ' + (cy + R * Math.sin(a1)).toFixed(1) + 'Z';
    const cp = add(defs, 'clipPath', { id: 'sec' + i });
    add(cp, 'path', { d: d });
    const pg = add(g, 'g', { 'clip-path': 'url(#sec' + i + ')' });
    
    
    const bottom = cy + 480;
    add(pg, 'rect', { x: cx - 480, y: cy - 480, width: 960, height: 960, fill: '#ffffff' });
    add(pg, 'rect', { x: cx - 480, y: ph[0], width: 960, height: ph[1] - ph[0], fill: ph[8] });
    add(pg, 'rect', { x: cx - 480, y: ph[1], width: 960, height: Math.max(0, bottom - ph[1]), fill: ph[9] });
    add(pg, 'rect', { x: cx - 480, y: ph[1], width: 960, height: 55, fill: 'url(#gFloor)' });
    add(pg, 'rect', { x: cx - 480, y: ph[1] - 3, width: 960, height: 3, fill: '#eeeae3' });
    if (ph[7] === 'photo-original') {
      const glove = add(pg, 'ellipse', { cx: 2590, cy: 3595, rx: 34, ry: 22, fill: '#1f6fc4' });
      
      
    }
    const L = Math.hypot(ph[5] - ph[3], ph[6] - ph[4]);
    const rot = Math.atan2(ph[3] - ph[5], ph[6] - ph[4]) * 180 / Math.PI;
    const dg = add(pg, 'g', { transform: 'translate(' + ph[3] + ',' + ph[4] + ') rotate(' + rot.toFixed(1) + ') scale(' + (L / 100).toFixed(3) + ')' });
    
    
    add(dg, 'path', { d: 'M0 0C2 3 4.5 8 4.7 15L5.6 35L8 55L10.5 59L5.2 63L3 68L3.2 74C5 80 9 84 13 85C18 84 21.5 89 20.5 91C14 93 8 98 0 100C-8 98 -14 93 -20.5 91C-21.5 89 -18 84 -13 85C-9 84 -5 80 -3.2 74L-3 68L-5.2 63L-10.5 59L-8 55L-5.6 35L-4.7 15C-4.5 8 -2 3 0 0Z', fill: 'url(#gBlade)' });
    add(dg, 'polygon', { points: '0,81 -6,94 6,94', fill: ph[9] });
    add(dg, 'circle', { cx: -13, cy: 89.5, r: 2.4, fill: ph[9] });
    add(dg, 'circle', { cx: 13, cy: 89.5, r: 2.4, fill: ph[9] });
  });

  const spokes = [0, 1, 2, 3];
  spokes.forEach(function (k) {
    const a = k * Math.PI / 4;
    const dx = Math.sin(a), dy = -Math.cos(a);
    const b = add(g, 'line', { x1: 2625 - 456 * dx, y1: cy - 456 * dy, x2: 2625 + 456 * dx, y2: cy + 456 * dy, stroke: '#9cc1e3', 'stroke-width': 32 });
    
    
    const w = add(g, 'line', { x1: 2622 - 585 * dx, y1: cy - 585 * dy, x2: 2622 + 585 * dx, y2: cy + 585 * dy, stroke: '#ffffff', 'stroke-width': 12 });
    
    
  });
  const c4 = add(g, 'circle', { cx: cx, cy: cy, r: 194, fill: '#9cc1e3' });
  
  
  const c5 = add(g, 'circle', { cx: cx, cy: cy, r: 184, fill: '#ffffff' });
  
  
  const c6 = add(g, 'circle', { cx: cx, cy: cy, r: 173, fill: '#a7c98c' });
  
  
})();
</script>
</body>
</html>
